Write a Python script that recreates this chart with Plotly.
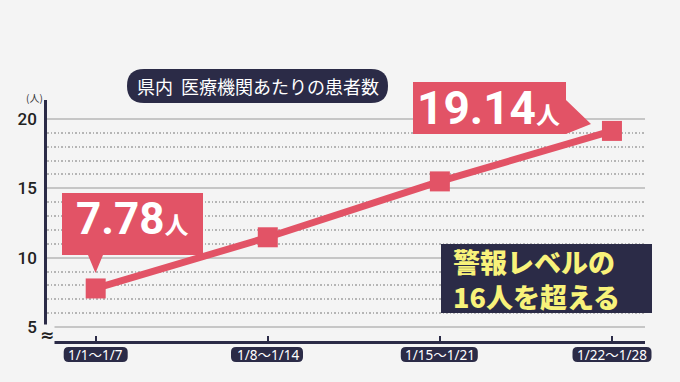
import plotly.graph_objects as go

# ---- data ----
categories = ["1/1〜1/7", "1/8〜1/14", "1/15〜1/21", "1/22〜1/28"]
values = [7.78, 11.47, 15.5, 19.14]
y_major_ticks = [5, 10, 15, 20]
y_minor_ticks = [6, 7, 8, 9, 11, 12, 13, 14, 16, 17, 18, 19]
title_text = "県内  医療機関あたりの患者数"
unit_text = "(人)"
warn_lines = ["警報レベルの", "16人を超える"]

# ---- styling ----
BG = "#f4f4f4"
RED = "#e25366"
NAVY = "#2b2b47"
YELLOW = "#f8f27a"
W, H = 680, 382
L, R, T, B = 47, 35, 100, 41
PW, PH = W - L - R, H - T - B


def px(x):
    return (x - L) / PW


def py(y):
    return (H - B - y) / PH


def rrect(x0, y0, x1, y1, r):
    pts = [
        ("M", [(x0 + r, y0)]), ("L", [(x1 - r, y0)]), ("Q", [(x1, y0), (x1, y0 + r)]),
        ("L", [(x1, y1 - r)]), ("Q", [(x1, y1), (x1 - r, y1)]), ("L", [(x0 + r, y1)]),
        ("Q", [(x0, y1), (x0, y1 - r)]), ("L", [(x0, y0 + r)]), ("Q", [(x0, y0), (x0 + r, y0)]),
    ]
    s = ""
    for c, ps in pts:
        s += c + " " + " ".join(f"{px(a):.5f},{py(b):.5f}" for a, b in ps) + " "
    return s + "Z"


def poly(points):
    s = "M " + " L ".join(f"{px(a):.5f},{py(b):.5f}" for a, b in points)
    return s + " Z"


fig = go.Figure()
fig.add_trace(go.Scatter(
    x=categories, y=values, mode="lines+markers",
    line=dict(color=RED, width=7),
    marker=dict(symbol="square", size=20, color=RED),
    hoverinfo="skip", showlegend=False, cliponaxis=False,
))

shapes = []
annotations = []

# title pill
shapes.append(dict(type="path", xref="paper", yref="paper", path=rrect(127, 69, 388, 103, 17),
                   fillcolor=NAVY, line=dict(width=0), layer="above"))
annotations.append(dict(xref="paper", yref="paper", x=px(258), y=py(86), text=title_text,
                        showarrow=False, xanchor="center", yanchor="middle",
                        font=dict(family="Noto Sans CJK JP", size=18, color="white")))

# unit label
annotations.append(dict(xref="paper", yref="paper", x=px(34), y=py(97), text=unit_text,
                        showarrow=False, xanchor="center", yanchor="middle",
                        font=dict(family="Noto Sans CJK JP", size=10, color="#333")))

# x tick label pills
pill_w = [64, 72, 77, 79]
tick_px = [95.7, 267.0, 439.3, 612.0]
for cat, w, cx in zip(categories, pill_w, tick_px):
    shapes.append(dict(type="path", xref="paper", yref="paper",
                       path=rrect(cx - w / 2, 347, cx + w / 2, 362, 5),
                       fillcolor=NAVY, line=dict(width=0), layer="above"))
    annotations.append(dict(xref="x", yref="paper", x=cat, y=py(354.5), text=cat,
                            showarrow=False, xanchor="center", yanchor="middle",
                            font=dict(family="Noto Sans, Noto Sans CJK JP", size=13.5, color="white")))

# callout 19.14
shapes.append(dict(type="path", xref="paper", yref="paper",
                   path=poly([(413, 82), (566, 82), (566, 100), (591, 124), (566, 134), (413, 134)]),
                   fillcolor=RED, line=dict(width=0), layer="above"))
annotations.append(dict(xref="paper", yref="paper", x=px(489), y=py(108),
                        text=f"{values[3]:.2f}<span style='font-size:24px'>人</span>",
                        showarrow=False, xanchor="center", yanchor="middle",
                        font=dict(family="Roboto, Noto Sans CJK JP", size=46, color="white", weight=700)))

# callout 7.78
shapes.append(dict(type="path", xref="paper", yref="paper",
                   path=poly([(62, 193), (203, 193), (203, 255), (103, 255), (95.5, 273), (88, 255), (62, 255)]),
                   fillcolor=RED, line=dict(width=0), layer="above"))
annotations.append(dict(xref="paper", yref="paper", x=px(132), y=py(219),
                        text=f"{values[0]:.2f}<span style='font-size:24px'>人</span>",
                        showarrow=False, xanchor="center", yanchor="middle",
                        font=dict(family="Roboto, Noto Sans CJK JP", size=44, color="white", weight=700)))

# warning box
shapes.append(dict(type="rect", xref="paper", yref="paper",
                   x0=px(441), x1=px(652), y0=py(313), y1=py(244),
                   fillcolor=NAVY, line=dict(width=0), layer="above"))
annotations.append(dict(xref="paper", yref="paper", x=px(451), y=py(278.5),
                        text=warn_lines[0] + "<br>" + warn_lines[1],
                        showarrow=False, xanchor="left", yanchor="middle", align="left",
                        font=dict(family="Noto Sans CJK JP", size=27, color=YELLOW, weight=900)))

# axis break mark
annotations.append(dict(xref="paper", yref="paper", x=px(47), y=py(335), text="≈",
                        showarrow=False, xanchor="center", yanchor="middle", bgcolor=BG, borderpad=0,
                        font=dict(family="DejaVu Sans", size=17, color="#222", weight=700)))

fig.update_layout(
    width=W, height=H,
    margin=dict(l=L, r=R, t=T, b=B),
    paper_bgcolor=BG, plot_bgcolor=BG,
    shapes=shapes, annotations=annotations,
    xaxis=dict(
        type="category", range=[-0.283, 3.192],
        showgrid=False, zeroline=False,
        showline=True, linecolor=NAVY, linewidth=2.5,
        ticks="inside", ticklen=5, tickwidth=1.5, tickcolor=NAVY,
        showticklabels=False,
    ),
    yaxis=dict(
        range=[3.99, 21.37],
        tickmode="array", tickvals=y_major_ticks,
        showgrid=True, gridcolor="#c6c6c6", gridwidth=2,
        zeroline=False,
        showline=True, linecolor=NAVY, linewidth=2.5,
        ticks="", ticklabelstandoff=4,
        tickfont=dict(family="Roboto", size=17, color="#222", weight=500),
        minor=dict(tickmode="array", tickvals=y_minor_ticks, showgrid=True,
                   gridcolor="#b5b5b5", griddash="1.5px,2px", gridwidth=1.5, ticks=""),
    ),
)

fig.write_html(
    "out.html",
    config={"displayModeBar": False},
    post_script="document.body.style.margin='0';document.body.style.background='" + BG + "';"
                "document.documentElement.style.overflow='hidden';",
)
